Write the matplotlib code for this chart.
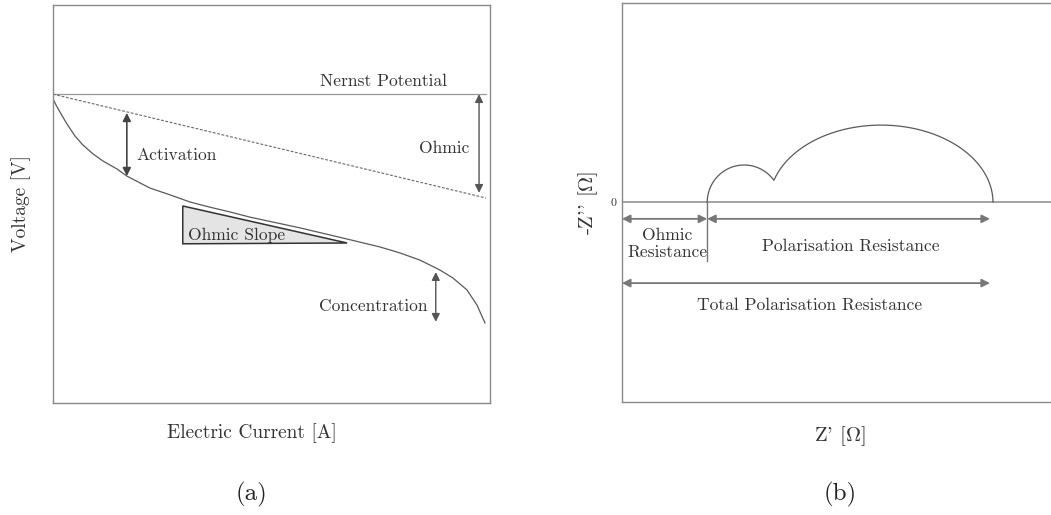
import matplotlib
matplotlib.use("Agg")
import matplotlib.pyplot as plt
import numpy as np

plt.rcParams["font.family"] = ["cmr10", "DejaVu Serif"]
plt.rcParams["mathtext.fontset"] = "cm"
plt.rcParams["axes.formatter.use_mathtext"] = True

# ---- (a) polarisation curve, values (axis units 0..100)
current = [0.0, 0.69, 1.60, 3.20, 5.03, 6.86, 9.15, 11.44, 14.65, 16.93, 19.91,
           22.20, 26.77, 31.35, 35.93, 40.50, 45.08, 56.52, 67.28, 74.83, 79.41,
           83.98, 88.56, 91.53, 94.74, 97.03, 98.86]
voltage = [76.4, 74.9, 73.1, 70.1, 67.1, 64.8, 62.6, 60.8, 58.8, 57.0, 55.3,
           54.0, 52.3, 50.5, 49.2, 48.0, 46.7, 44.0, 41.2, 39.2, 37.7,
           35.9, 33.4, 31.4, 28.4, 24.6, 20.1]
nernst_v = 77.6
ohmic_line_x = [0.0, 99.1]
ohmic_line_v = [77.6, 51.5]
slope_x = [29.7, 29.7, 67.3]
slope_v = [49.5, 40.0, 40.2]

# ---- (b) Nyquist sketch (axis units)
r_ohm = 19.5
arc1_end, arc1_height = 36.4, 9.4
arc2_center, arc2_end, arc2_height = 59.3, 84.9, 19.4

LINE = "#5a5a5a"
ARROW = "#444444"
TEXT = "#333333"
SPINE = "#8a8a8a"
FS = 12.6

fig = plt.figure(figsize=(10.51, 5.15), dpi=100)
ax1 = fig.add_axes([0.0504, 0.2175, 0.4158, 0.7728])
ax2 = fig.add_axes([0.5918, 0.2194, 0.4158, 0.7748])

for ax in (ax1, ax2):
    ax.set_xlim(0, 100)
    for s in ax.spines.values():
        s.set_color(SPINE)
        s.set_linewidth(1.0)
    ax.tick_params(length=0)

# panel (a)
ax1.set_ylim(0, 100)
ax1.set_xticks([])
ax1.set_yticks([])
ax1.plot([0, 99.1], [nernst_v, nernst_v], color="#999999", lw=0.9)
ax1.plot(ohmic_line_x, ohmic_line_v, color="#666666", lw=0.8, ls=(0, (2.5, 1.5)))
ax1.plot(current, voltage, color=LINE, lw=0.9)
ax1.fill(slope_x, slope_v, facecolor="#e4e4e4", edgecolor="#333333", lw=1.1)

arrow_kw = dict(arrowstyle="<|-|>", color=ARROW, lw=1.2, mutation_scale=12,
                shrinkA=0, shrinkB=0)
ax1.annotate("", xy=(16.9, 72.9), xytext=(16.9, 57.0), arrowprops=arrow_kw)
ax1.annotate("", xy=(97.5, 77.6), xytext=(97.5, 52.8),
             arrowprops=dict(arrow_kw, color="#555555", lw=1.0))
ax1.annotate("", xy=(87.6, 32.9), xytext=(87.6, 20.4),
             arrowprops=dict(arrow_kw, color="#555555", lw=1.0))

ax1.text(61.1, 80.7, "Nernst Potential", fontsize=FS, color=TEXT, va="center")
ax1.text(19.2, 62.3, "Activation", fontsize=FS, color=TEXT, va="center")
ax1.text(95.2, 64.1, "Ohmic", fontsize=FS, color=TEXT, va="center", ha="right")
ax1.text(30.9, 42.0, "Ohmic Slope", fontsize=FS, color=TEXT, va="center")
ax1.text(85.6, 24.4, "Concentration", fontsize=FS, color=TEXT, va="center", ha="right")

ax1.set_ylabel("Voltage [V]", fontsize=14, color=TEXT)
ax1.yaxis.set_label_coords(-0.05, 0.5)
ax1.set_xlabel("Electric Current [A]", fontsize=14, color=TEXT)
ax1.xaxis.set_label_coords(0.455, -0.052)

# panel (b)
ax2.set_ylim(-50, 50)
ax2.set_xticks([])
ax2.set_yticks([0])
ax2.set_yticklabels(["0"], fontsize=8.5, color=TEXT)
ax2.tick_params(axis="y", pad=4)
ax2.spines["right"].set_visible(False)
ax2.axhline(0, color="#8a8a8a", lw=1.1)


def half_ellipse(x0, x1, h, t):
    c, r = (x0 + x1) / 2, (x1 - x0) / 2
    return c + r * np.cos(t), h * np.sin(t)


def ellipse_y(x, x0, x1, h):
    c, r = (x0 + x1) / 2, (x1 - x0) / 2
    u = np.clip((x - c) / r, -1, 1)
    return np.where(np.abs((x - c) / r) <= 1, h * np.sqrt(1 - u ** 2), 0.0)


t = np.linspace(np.pi, 0, 400)
arc2_start = 2 * arc2_center - arc2_end
sx, sy = half_ellipse(r_ohm, arc1_end, arc1_height, t)
keep = sy >= ellipse_y(sx, arc2_start, arc2_end, arc2_height)
bx, by = half_ellipse(arc2_start, arc2_end, arc2_height, t)
keep2 = by > ellipse_y(bx, r_ohm, arc1_end, arc1_height)
ax2.plot(np.r_[sx[keep], bx[keep2]], np.r_[sy[keep], by[keep2]], color=LINE, lw=0.9)
ax2.plot([r_ohm, r_ohm], [0, -14.7], color="#777777", lw=1.0)

garrow = dict(arrowstyle="<|-|>", color="#777777", lw=1.3, mutation_scale=12,
              shrinkA=0, shrinkB=0)
ax2.annotate("", xy=(0, -4.1), xytext=(r_ohm, -4.1), arrowprops=garrow)
ax2.annotate("", xy=(r_ohm, -4.1), xytext=(arc2_end - 0.7, -4.1), arrowprops=garrow)
ax2.annotate("", xy=(0, -20.2), xytext=(arc2_end - 0.7, -20.2), arrowprops=garrow)

ax2.text(r_ohm / 2 + 0.6, -10.4, "Ohmic\nResistance", fontsize=FS, color=TEXT,
         ha="center", va="center", linespacing=1.1)
ax2.text(52.4, -11.1, "Polarisation Resistance", fontsize=FS, color=TEXT,
         ha="center", va="center")
ax2.text(43.0, -25.7, "Total Polarisation Resistance", fontsize=FS, color=TEXT,
         ha="center", va="center")

ax2.set_ylabel(r"-Z'' [$\Omega$]", fontsize=15, color=TEXT)
ax2.yaxis.set_label_coords(-0.05, 0.5)
ax2.set_xlabel(r"Z' [$\Omega$]", fontsize=15, color=TEXT)
ax2.xaxis.set_label_coords(0.499, -0.055)

fig.text(252 / 1051, 1 - 494 / 515, "(a)", fontsize=18, color="#222222",
         ha="center", va="center")
fig.text(840 / 1051, 1 - 494 / 515, "(b)", fontsize=18, color="#222222",
         ha="center", va="center")

fig.savefig("out.png", dpi=100)
